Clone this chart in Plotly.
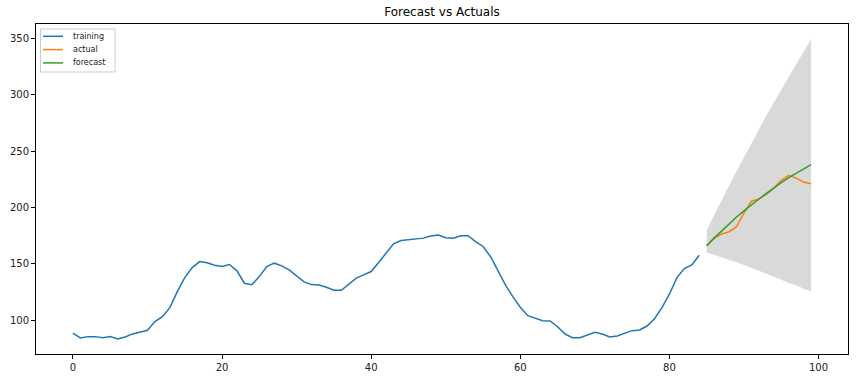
import plotly.graph_objects as go

# ---- data ----
train_x = list(range(0, 85))
train_y = [88.5, 84.3, 85.5, 85.5, 84.6, 85.5, 83.4, 85.2, 87.9, 89.3,
           91.1, 98.8, 103.2, 111.2, 125.4, 137.8, 146.7, 152.0, 150.9, 148.8,
           147.6, 149.4, 143.8, 132.8, 131.5, 138.7, 147.6, 150.6, 148.2, 144.7,
           139.3, 134.0, 131.6, 131.3, 129.3, 126.6, 126.6, 132.2, 137.3, 140.2,
           143.2, 151.2, 160.0, 167.8, 170.7, 171.3, 172.2, 172.8, 174.6, 175.5,
           173.1, 172.8, 174.9, 174.9, 169.8, 165.4, 156.5, 143.2, 131.3, 121.0,
           111.5, 104.1, 101.8, 99.6, 99.4, 94.3, 87.8, 84.6, 84.6, 87.0,
           89.3, 87.8, 85.2, 86.1, 88.5, 90.8, 91.4, 94.9, 101.4, 111.2,
           123.1, 137.8, 145.8, 149.1, 157.7]

test_x = list(range(85, 100))
actual_y = [166, 172.5, 176.5, 178.5, 183, 195, 205.5, 207.5, 211.5, 217,
            224, 228.5, 226, 222.5, 221]
forecast_y = [166, 173, 179, 185.5, 191.5, 197, 202.5, 207.5, 212.5, 217.5,
              222, 226.5, 230.5, 234.5, 238]
upper_y = [180, 193.5, 206.5, 219.5, 232, 244.5, 257, 269.5, 281.5, 293,
           304.5, 316, 327, 338, 349]
lower_y = [160, 158, 156, 154, 151.5, 149, 146.5, 144, 141.5, 139,
           136, 133, 131, 128, 125.5]

x_ticks = [0, 20, 40, 60, 80, 100]
y_ticks = [100, 150, 200, 250, 300, 350]
legend_names = ["training", "actual", "forecast"]

BLUE, ORANGE, GREEN = "#1f77b4", "#ff7f0e", "#2ca02c"
series_colors = [BLUE, ORANGE, GREEN]
FONT = "DejaVu Sans, Liberation Sans, sans-serif"

fig = go.Figure()

# confidence band
fig.add_trace(go.Scatter(x=test_x, y=lower_y, mode="lines",
                         line=dict(width=0, color="rgba(0,0,0,0)"),
                         showlegend=False, hoverinfo="skip"))
fig.add_trace(go.Scatter(x=test_x, y=upper_y, mode="lines",
                         line=dict(width=0, color="rgba(0,0,0,0)"),
                         fill="tonexty", fillcolor="rgba(0,0,0,0.15)",
                         showlegend=False, hoverinfo="skip"))

fig.add_trace(go.Scatter(x=train_x, y=train_y, mode="lines", name=legend_names[0],
                         line=dict(color=BLUE, width=1.5), showlegend=False))
fig.add_trace(go.Scatter(x=test_x, y=actual_y, mode="lines", name=legend_names[1],
                         line=dict(color=ORANGE, width=1.5), showlegend=False))
fig.add_trace(go.Scatter(x=test_x, y=forecast_y, mode="lines", name=legend_names[2],
                         line=dict(color=GREEN, width=1.5), showlegend=False))

axis_common = dict(showgrid=False, zeroline=False, showline=True,
                   linecolor="black", linewidth=1, mirror=True,
                   ticks="outside", ticklen=4, tickwidth=1, tickcolor="black",
                   automargin=False,
                   tickfont=dict(family=FONT, size=10, color="#222"))

fig.update_xaxes(range=[-4.95, 103.95], tickvals=x_ticks,
                 ticktext=[str(v) for v in x_ticks], **axis_common)
fig.update_yaxes(range=[70.1, 362.6], tickvals=y_ticks,
                 ticktext=[str(v) for v in y_ticks], **axis_common)

# matplotlib-style compact legend (upper left, inside the axes)
PW, PH = 812.0, 330.0  # plot area in px
def px_x(p):
    return p / PW
def px_y(p):
    return 1 - p / PH

shapes = [dict(type="rect", xref="paper", yref="paper",
               x0=px_x(4.5), x1=px_x(79), y0=px_y(48), y1=px_y(5),
               line=dict(color="#cccccc", width=1), fillcolor="white",
               layer="above")]
annotations = []
for i, (name, col) in enumerate(zip(legend_names, series_colors)):
    yy = px_y(12.3 + 13.3 * i)
    shapes.append(dict(type="line", xref="paper", yref="paper",
                       x0=px_x(7), x1=px_x(27), y0=yy, y1=yy,
                       line=dict(color=col, width=1.5), layer="above"))
    annotations.append(dict(xref="paper", yref="paper", x=px_x(35), y=yy,
                            text=name, showarrow=False, xanchor="left",
                            yanchor="middle",
                            font=dict(family=FONT, size=8, color="#222")))

fig.update_layout(
    width=856, height=379,
    margin=dict(l=36, r=8, t=24, b=25, autoexpand=False),
    paper_bgcolor="white", plot_bgcolor="white",
    font=dict(family=FONT, color="#222"),
    title=dict(text="Forecast vs Actuals", x=0.5, xref="paper",
               y=1 - 12 / 379, yref="container", yanchor="middle",
               xanchor="center", automargin=False,
               font=dict(family=FONT, size=12, color="black")),
    shapes=shapes,
    annotations=annotations,
    showlegend=False,
)

fig.write_html(
    "out.html",
    config={"displayModeBar": False},
    post_script="document.body.style.margin='0';document.body.style.padding='0';"
                "document.body.style.overflow='hidden';",
)
